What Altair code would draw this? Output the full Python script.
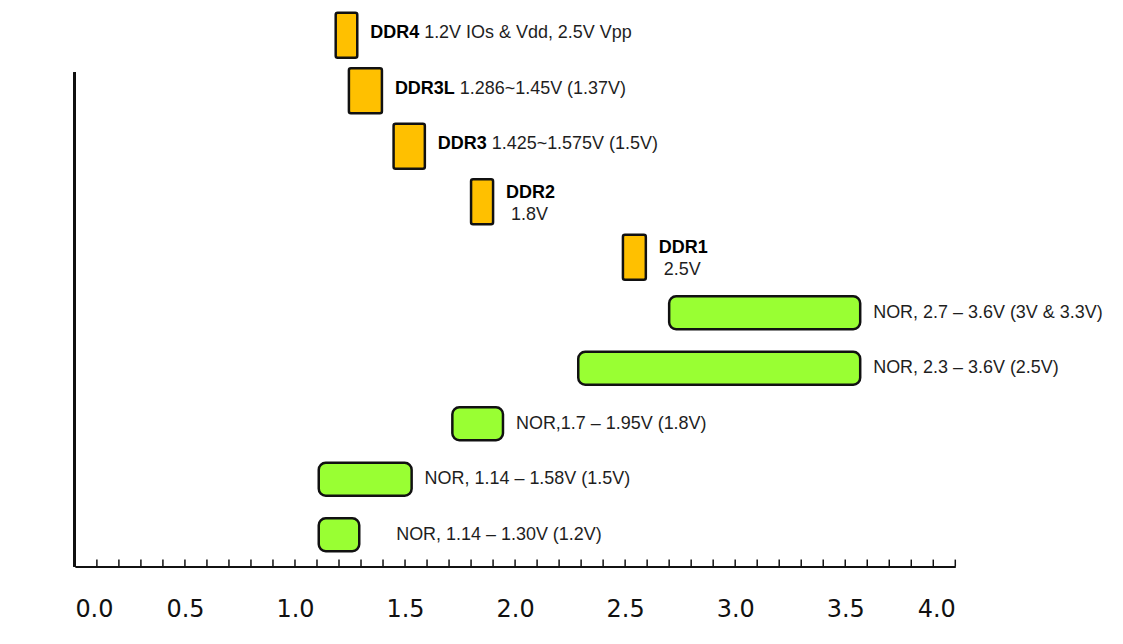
import altair as alt
import pandas as pd

# ---- data ----
ddr_names = ["DDR4", "DDR3L", "DDR3", "DDR2", "DDR1"]
ddr_desc = ["1.2V IOs & Vdd, 2.5V Vpp", "1.286~1.45V (1.37V)",
            "1.425~1.575V (1.5V)", "1.8V", "2.5V"]
ddr_lo = [1.185, 1.245, 1.448, 1.800, 2.490]
ddr_hi = [1.283, 1.395, 1.590, 1.900, 2.594]
ddr_stacked = [False, False, False, True, True]

nor_labels = ["NOR, 2.7 – 3.6V (3V & 3.3V)", "NOR, 2.3 – 3.6V (2.5V)",
              "NOR,1.7 – 1.95V (1.8V)", "NOR, 1.14 – 1.58V (1.5V)",
              "NOR, 1.14 – 1.30V (1.2V)"]
nor_lo = [2.700, 2.287, 1.715, 1.108, 1.108]
nor_hi = [3.568, 3.568, 1.945, 1.530, 1.292]

axis_labels = [0.0, 0.5, 1.0, 1.5, 2.0, 2.5, 3.0, 3.5, 4.0]
minor_ticks = [round(i / 10, 1) for i in range(1, 41)]

W, H = 882, 559
FONT = "Liberation Sans"
FS = 18
TXT = "#1e1e1e"
PPU = W / 4.0  # pixels per volt on the x scale

# Arial/Liberation Sans Bold advance widths (em) for the bold names
BOLD_EM = {"D": 0.722, "R": 0.722, "L": 0.611, "1": 0.556, "2": 0.556,
           "3": 0.556, "4": 0.556}
SPACE_EM = 0.278

# ---- tables ----
rows = []
for n, d, lo, hi, st in zip(ddr_names, ddr_desc, ddr_lo, ddr_hi, ddr_stacked):
    name_px = sum(BOLD_EM[c] for c in n) * FS
    rows.append(dict(key=n, kind="DDR", lo=lo, hi=hi, name=n, desc=d,
                     name_px=name_px, layout="stacked" if st else "inline"))
for i, (lab, lo, hi) in enumerate(zip(nor_labels, nor_lo, nor_hi)):
    rows.append(dict(key="NOR%d" % i, kind="NOR", lo=lo, hi=hi, name="NOR",
                     desc=lab, name_px=0.0,
                     layout="plain_wide" if i == len(nor_labels) - 1 else "plain"))
df = pd.DataFrame(rows)
keys = list(df["key"])
ticks_df = pd.DataFrame({"t": minor_ticks})

x_axis = alt.Axis(values=axis_labels, format=".1f", ticks=False, tickSize=0,
                  grid=False, domainColor="#111111", domainWidth=2,
                  labelFont="DejaVu Sans", labelFontSize=24, labelColor="#111111",
                  labelPadding=31, title=None)
xs = alt.Scale(domain=[0, 4], nice=False, zero=False)
Y = alt.Y("key:N", sort=keys,
          scale=alt.Scale(paddingInner=0, paddingOuter=0, range=[-1, 555]),
          axis=None)

base = alt.Chart(df)

ddr_bars = base.transform_filter(alt.datum.kind == "DDR").mark_bar(
    height=45, fill="#FFC000", stroke="#111111", strokeWidth=2.5, cornerRadius=2
).encode(x=alt.X("lo:Q", scale=xs, axis=x_axis), x2="hi:Q", y=Y)

nor_bars = base.transform_filter(alt.datum.kind == "NOR").mark_bar(
    height=33, fill="#99FF33", stroke="#111111", strokeWidth=2.5, cornerRadius=7
).encode(x=alt.X("lo:Q", scale=xs, axis=x_axis), x2="hi:Q", y=Y)

nor_text = base.transform_filter(alt.datum.layout == "plain").mark_text(
    align="left", baseline="middle", dx=13, font=FONT, fontSize=FS, color=TXT
).encode(x=alt.X("hi:Q", scale=xs, axis=x_axis), y=Y, text="desc:N")

nor_text_wide = base.transform_filter(alt.datum.layout == "plain_wide").mark_text(
    align="left", baseline="middle", dx=37, font=FONT, fontSize=FS, color=TXT
).encode(x=alt.X("hi:Q", scale=xs, axis=x_axis), y=Y, text="desc:N")

inline_name = base.transform_filter(alt.datum.layout == "inline").mark_text(
    align="left", baseline="middle", dx=13, dy=-2, font=FONT, fontSize=FS,
    fontWeight="bold", color="#000000"
).encode(x=alt.X("hi:Q", scale=xs, axis=x_axis), y=Y, text="name:N")

inline_desc = base.transform_filter(alt.datum.layout == "inline").transform_calculate(
    xd="datum.hi + (13 + datum.name_px + %f) / %f" % (SPACE_EM * FS, PPU)
).mark_text(
    align="left", baseline="middle", dy=-2, font=FONT, fontSize=FS, color=TXT
).encode(x=alt.X("xd:Q", scale=xs, axis=x_axis), y=Y, text="desc:N")

stacked_name = base.transform_filter(alt.datum.layout == "stacked").mark_text(
    align="left", baseline="middle", dx=13, dy=-9, font=FONT, fontSize=FS,
    fontWeight="bold", color="#000000"
).encode(x=alt.X("hi:Q", scale=xs, axis=x_axis), y=Y, text="name:N")

stacked_desc = base.transform_filter(alt.datum.layout == "stacked").mark_text(
    align="left", baseline="middle", dx=18, dy=13, font=FONT, fontSize=FS, color=TXT
).encode(x=alt.X("hi:Q", scale=xs, axis=x_axis), y=Y, text="desc:N")

tick_rules = alt.Chart(ticks_df).mark_rule(color="#111111", strokeWidth=1.5).encode(
    x=alt.X("t:Q", scale=xs, axis=x_axis), y=alt.value(H - 7), y2=alt.value(H)
)

y_line = alt.Chart(ticks_df).mark_rule(color="#111111", strokeWidth=2).encode(
    x=alt.value(0), y=alt.value(64), y2=alt.value(H)
)

chart = alt.layer(
    tick_rules, y_line, ddr_bars, nor_bars, nor_text, nor_text_wide,
    inline_name, inline_desc, stacked_name, stacked_desc
).properties(
    width=W, height=H,
    autosize=alt.AutoSizeParams(type="none"),
    padding={"left": 67, "top": 0, "right": 160, "bottom": 72},
    background="white",
).configure_view(stroke=None)

chart.save("out.html", embed_options={"renderer": "svg", "actions": False})
